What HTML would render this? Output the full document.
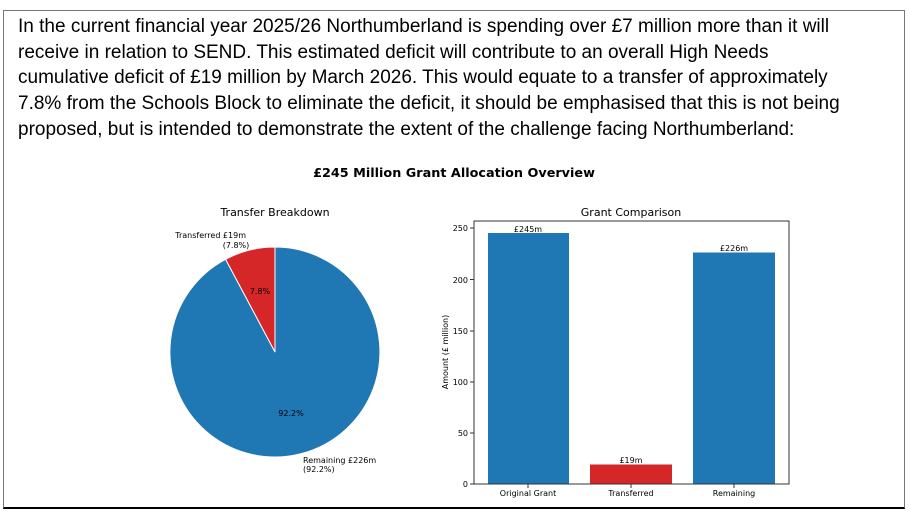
<!DOCTYPE html>
<html><head><meta charset="utf-8"><style>
html,body{margin:0;padding:0;background:#fff;width:910px;height:513px;overflow:hidden}
.box{position:absolute;left:3px;top:10px;width:900px;height:496px;border:1px solid #777;border-bottom:2px solid #000}
.txt{position:absolute;left:18px;top:14px;font-family:"Liberation Sans",Arial,sans-serif;font-size:19px;line-height:25.7px;color:#000;white-space:nowrap}
svg{position:absolute;left:0;top:0}
svg text{font-family:"DejaVu Sans",sans-serif}
</style></head><body>
<div class="box"></div>
<div class="txt">In the current financial year 2025/26 Northumberland is spending over £7 million more than it will<br>receive in relation to SEND. This estimated deficit will contribute to an overall High Needs<br>cumulative deficit of £19 million by March 2026. This would equate to a transfer of approximately<br>7.8% from the Schools Block to eliminate the deficit, it should be emphasised that this is not being<br>proposed, but is intended to demonstrate the extent of the challenge facing Northumberland:</div>
<svg width="910" height="513" viewBox="0 0 910 513">
<text x="454" y="177" text-anchor="middle" font-size="12.8" font-weight="bold" fill="#000">£245 Million Grant Allocation Overview</text>
<text x="275" y="216" text-anchor="middle" font-size="11" fill="#000">Transfer Breakdown</text>
<path d="M275,352 L275,247 A105,105 0 1 1 225.6,259.3 Z" fill="#1f77b4" stroke="#fff" stroke-width="1"/>
<path d="M275,352 L225.6,259.3 A105,105 0 0 1 275,247 Z" fill="#d62728" stroke="#fff" stroke-width="1"/>
<text x="260" y="294" text-anchor="middle" font-size="8" fill="#000">7.8%</text>
<text x="291" y="416" text-anchor="middle" font-size="8" fill="#000">92.2%</text>
<text x="246" y="238" text-anchor="end" font-size="8" fill="#000">Transferred £19m</text>
<text x="236" y="248" text-anchor="middle" font-size="8" fill="#000">(7.8%)</text>
<text x="303" y="463" font-size="8" fill="#000">Remaining £226m</text>
<text x="303" y="472" font-size="8" fill="#000">(92.2%)</text>
<text x="631" y="216" text-anchor="middle" font-size="11" fill="#000">Grant Comparison</text>
<rect x="488" y="233" width="81" height="251" fill="#1f77b4"/>
<rect x="590" y="464.5" width="82" height="19.5" fill="#d62728"/>
<rect x="693" y="252.5" width="82" height="231.5" fill="#1f77b4"/>
<rect x="474" y="221" width="315" height="263" fill="none" stroke="#333" stroke-width="1"/>
<g font-size="8" fill="#000" text-anchor="middle">
<text x="528" y="232">£245m</text><text x="631" y="463">£19m</text><text x="734" y="251">£226m</text>
<text x="528" y="496">Original Grant</text><text x="631" y="496">Transferred</text><text x="734" y="496">Remaining</text>
</g>
<g font-size="8" fill="#000" text-anchor="end">
<text x="468" y="487">0</text><text x="468" y="436">50</text><text x="468" y="385">100</text><text x="468" y="334">150</text><text x="468" y="283">200</text><text x="468" y="231">250</text>
</g>
<g stroke="#333" stroke-width="1">
<line x1="470" y1="484" x2="474" y2="484"/><line x1="470" y1="433" x2="474" y2="433"/><line x1="470" y1="382" x2="474" y2="382"/><line x1="470" y1="331" x2="474" y2="331"/><line x1="470" y1="279.5" x2="474" y2="279.5"/><line x1="470" y1="228" x2="474" y2="228"/>
<line x1="528" y1="484" x2="528" y2="488"/><line x1="631" y1="484" x2="631" y2="488"/><line x1="734" y1="484" x2="734" y2="488"/>
</g>
<text transform="translate(448,352) rotate(-90)" text-anchor="middle" font-size="8" fill="#000">Amount (£ million)</text>
</svg>
</body></html>
